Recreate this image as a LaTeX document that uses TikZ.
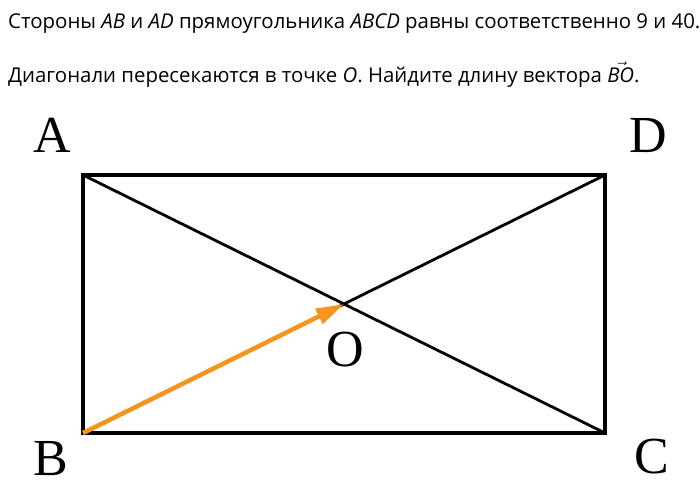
\documentclass[tikz,border=0pt]{standalone}
\usepackage{amsmath}
\usepackage{fontspec}
\setmainfont{Liberation Serif}
\newfontfamily\textsans{Open Sans}
\usetikzlibrary{arrows.meta,positioning,calc}
\definecolor{vecorange}{RGB}{247,148,30}
\tikzstyle{task} = [anchor=base west, inner sep=0pt, font=\textsans\fontsize{20.4}{24}\selectfont]
\tikzstyle{vertex} = [anchor=base, inner sep=0pt, font=\fontsize{52}{56}\selectfont]
\tikzstyle{side} = [line width=4pt, line join=miter]
\tikzstyle{diag} = [line width=2.8pt]
\tikzstyle{vecline} = [-{Triangle[length=28pt,width=16pt]}, line width=4.5pt, vecorange]

\begin{document}
\begin{tikzpicture}[x=1pt, y=-1pt]
			\useasboundingbox (0,0) rectangle (700,493);
			
			\node[task] (line1) at (8,28) {Стороны \textit{AB} и \textit{AD} прямоугольника \textit{ABCD} равны соответственно 9 и 40.};
			\node[task] (line2) at (8,82) {Диагонали пересекаются в точке \textit{O}. Найдите длину вектора $\vec{\text{\itshape BO}}$.};
			
			\coordinate (A) at (83,175);
			\coordinate (D) at (605,175);
			\coordinate (C) at (605,433);
			\coordinate (B) at (83,433);
			\coordinate (O) at ($(A)!0.5!(C)$);
			
			\node[vertex] (labA) at (52,152) {A};
			\node[vertex] (labD) at (648,152) {D};
			\node[vertex] (labB) at (51,475) {B};
			\node[vertex] (labC) at (652,473) {C};
			\node[vertex] (labO) at (345,366) {O};
			
			%sides and diagonals
			\draw[diag] (A) -- (C);
			\draw[diag] (B) -- (D);
			\draw[side] (A) -- (D) -- (C) -- (B) -- cycle;
			
			%vector
			\draw[vecline] (B) -- (O);
			
			%
		\end{tikzpicture}
\end{document}
